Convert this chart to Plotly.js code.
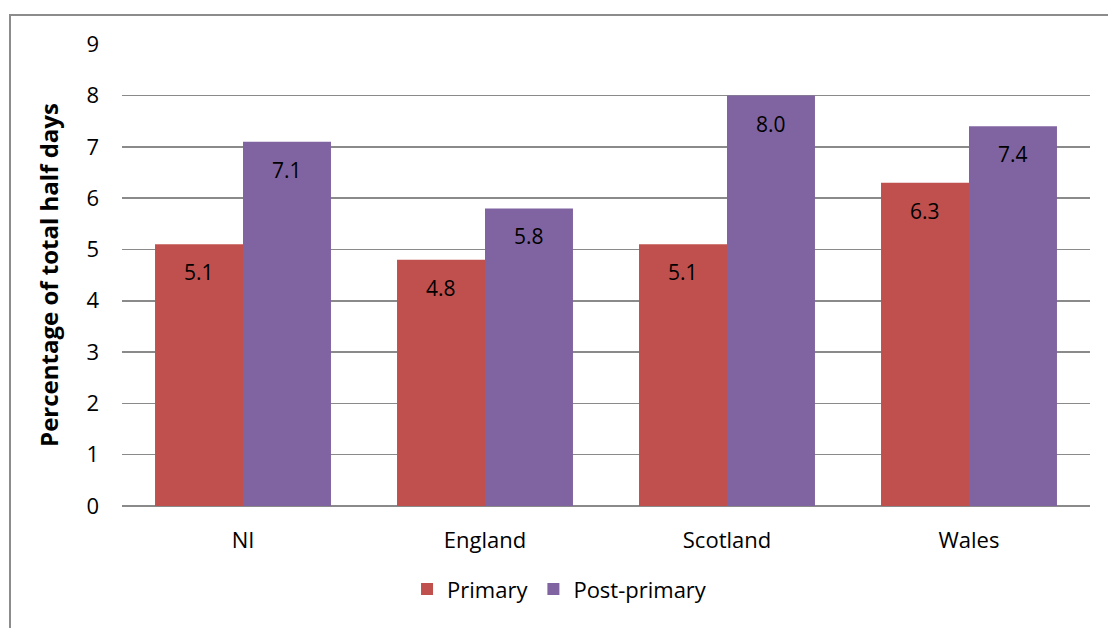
<!DOCTYPE html>
<html>
<head>
<meta charset="utf-8">
<script src="https://cdn.plot.ly/plotly-3.0.1.min.js"></script>
<style>
html,body{margin:0;padding:0;background:#fff;}
#wrap{position:relative;width:1108px;height:628px;overflow:hidden;}
#frame{position:absolute;left:9px;top:14px;width:1200px;height:700px;border-left:2px solid #8c8c8c;border-top:2px solid #8c8c8c;box-sizing:border-box;}
#chart{position:absolute;left:0;top:0;width:1108px;height:628px;}
</style>
</head>
<body>
<div id="wrap">
<div id="frame"></div>
<div id="chart"></div>
</div>
<script>
const categories = ["NI", "England", "Scotland", "Wales"];
const primary = [5.1, 4.8, 5.1, 6.3];
const postPrimary = [7.1, 5.8, 8.0, 7.4];
const seriesNames = ["Primary", "Post-primary"];
const yTicks = [0,1,2,3,4,5,6,7,8,9];

const font = "'Open Sans', sans-serif";
const mk = (name, vals, color) => ({
  type: "bar", name: name, x: categories, y: vals,
  marker: {color: color}, hoverinfo: "none"
});
const data = [mk(seriesNames[0], primary, "#C0504D"), mk(seriesNames[1], postPrimary, "#8064A2")];

const annotations = [];
[[primary, -44], [postPrimary, 44]].forEach(([vals, dx]) => {
  vals.forEach((v, i) => annotations.push({
    x: categories[i], y: v, xref: "x", yref: "y", text: v.toFixed(1),
    showarrow: false, xshift: dx, yshift: -28, yanchor: "middle",
    font: {family: font, size: 21, color: "#000"}
  }));
});

const layout = {
  width: 1108, height: 628,
  paper_bgcolor: "rgba(0,0,0,0)", plot_bgcolor: "rgba(0,0,0,0)",
  margin: {l: 122, r: 18, t: 44, b: 122},
  barmode: "group", bargap: 0.273, bargroupgap: 0,
  font: {family: font, size: 22, color: "#000"},
  xaxis: {showgrid: false, showline: false, ticks: "", ticklabelstandoff: 19, tickfont: {size: 22}},
  yaxis: {range: [0, 9.004], tickvals: yTicks, showgrid: true, gridcolor: "#8a8a8a", gridwidth: 1.5,
          zeroline: true, zerolinecolor: "#8a8a8a", zerolinewidth: 1.5, showline: false, ticks: "",
          ticklabelstandoff: 22, tickfont: {size: 22},
          title: {text: "<b>Percentage of total half days</b>", font: {size: 24}, standoff: 21}},
  annotations: annotations,
  legend: {orientation: "h", x: 0.452, xanchor: "center", y: -0.18, yanchor: "middle",
           font: {size: 22}, itemwidth: 30, traceorder: "normal"},
  showlegend: true
};
Plotly.newPlot("chart", data, layout, {staticPlot: true});
</script>
</body>
</html>
